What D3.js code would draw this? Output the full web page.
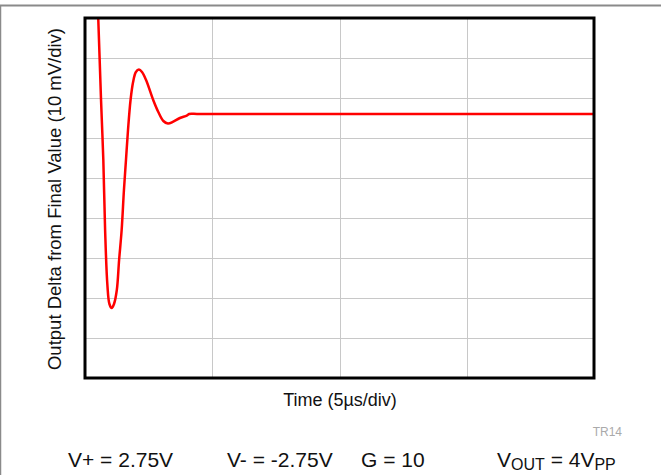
<!DOCTYPE html>
<html>
<head>
<meta charset="utf-8">
<script src="https://cdn.jsdelivr.net/npm/d3@7"></script>
<style>
  html, body { margin: 0; padding: 0; background: #fff; }
  svg { display: block; font-family: "Liberation Sans", Arial, Helvetica, sans-serif; }
</style>
</head>
<body>
<svg id="chart" width="661" height="475"></svg>
<script>
// Settling response: time in µs, output delta from final value in mV
const timeUs = [0.43, 0.52, 0.63, 0.72, 0.79, 0.88, 0.96, 1.05, 1.14, 1.25, 1.34, 1.44, 1.53, 1.61, 1.69, 1.79, 1.89, 2.00, 2.12, 2.24, 2.40, 2.68, 2.88, 3.08, 3.26, 3.47, 3.73, 4.00, 4.09, 4.4, 5.0, 10.0, 15.0, 20.0];
const deltaMv = [38.5, 24, 3.5, -11.5, -29, -42.8, -47.5, -48.5, -47.5, -44, -36.5, -29, -19, -11.5, -4, 3.5, 8, 10.5, 11.1, 10.5, 8.5, 3.5, 0.5, -1.75, -2.4, -1.9, -1.0, -0.4, 0, 0, 0, 0, 0, 0];

// Grid divisions: 5 µs/div horizontally, 10 mV/div vertically
const xDomain = [0, 20];
const yDomain = [-66, 24];
const xGrid = [5, 10, 15];
const yGrid = [-56, -46, -36, -26, -16, -6, 4, 14];

const yLabel = "Output Delta from Final Value (10 mV/div)";
const xLabel = "Time (5µs/div)";
const figId = "TR14";

const svg = d3.select("#chart");
const plot = { left: 85, right: 594, top: 18, bottom: 378 };

const x = d3.scaleLinear().domain(xDomain).range([plot.left, plot.right]);
const y = d3.scaleLinear().domain(yDomain).range([plot.bottom, plot.top]);

// outer figure border (top and left edges visible)
svg.append("line").attr("x1", 0).attr("x2", 661).attr("y1", 5.5).attr("y2", 5.5)
  .attr("stroke", "#8a8a8a").attr("stroke-width", 2);
svg.append("line").attr("x1", 0.5).attr("x2", 0.5).attr("y1", 5).attr("y2", 475)
  .attr("stroke", "#8a8a8a").attr("stroke-width", 1.5);

// grid
const grid = svg.append("g").attr("stroke", "#c8c8c8").attr("stroke-width", 1);
grid.selectAll("line.v").data(xGrid).join("line").attr("class", "v")
  .attr("x1", d => Math.round(x(d)) + 0.5).attr("x2", d => Math.round(x(d)) + 0.5)
  .attr("y1", plot.top).attr("y2", plot.bottom);
grid.selectAll("line.h").data(yGrid).join("line").attr("class", "h")
  .attr("x1", plot.left).attr("x2", plot.right)
  .attr("y1", d => Math.round(y(d)) + 0.5).attr("y2", d => Math.round(y(d)) + 0.5);

// clip to plot area
svg.append("clipPath").attr("id", "clip").append("rect")
  .attr("x", plot.left).attr("y", plot.top)
  .attr("width", plot.right - plot.left).attr("height", plot.bottom - plot.top);

const line = d3.line()
  .x((d, i) => x(timeUs[i]))
  .y(d => y(d))
  .curve(d3.curveCatmullRom.alpha(0.5));

svg.append("path")
  .datum(deltaMv)
  .attr("clip-path", "url(#clip)")
  .attr("fill", "none")
  .attr("stroke", "#ff0000")
  .attr("stroke-width", 2.5)
  .attr("stroke-linejoin", "round")
  .attr("d", line);

// plot frame
svg.append("rect")
  .attr("x", plot.left).attr("y", plot.top)
  .attr("width", plot.right - plot.left).attr("height", plot.bottom - plot.top)
  .attr("fill", "none").attr("stroke", "#000").attr("stroke-width", 3);

// axis titles
svg.append("text")
  .attr("transform", `translate(61,${(plot.top + plot.bottom) / 2 + 1}) rotate(-90)`)
  .attr("text-anchor", "middle").attr("font-size", 18.5).attr("fill", "#111")
  .text(yLabel);

svg.append("text")
  .attr("x", 340).attr("y", 405.5)
  .attr("text-anchor", "middle").attr("font-size", 18).attr("fill", "#111")
  .text(xLabel);

svg.append("text")
  .attr("x", 622).attr("y", 436)
  .attr("text-anchor", "end").attr("font-size", 12).attr("fill", "#aaaaaa")
  .text(figId);

// test conditions
const cond = svg.append("g").attr("font-size", 21).attr("fill", "#111");
cond.append("text").attr("x", 68).attr("y", 467).text("V+ = 2.75V");
cond.append("text").attr("x", 227).attr("y", 467).text("V- = -2.75V");
cond.append("text").attr("x", 361).attr("y", 467).text("G = 10");
const vout = cond.append("text").attr("x", 497).attr("y", 467);
vout.append("tspan").text("V");
vout.append("tspan").attr("font-size", 16).attr("dy", 3).text("OUT");
vout.append("tspan").attr("dy", -3).text(" = 4V");
vout.append("tspan").attr("font-size", 16).attr("dy", 3).text("PP");
</script>
</body>
</html>
